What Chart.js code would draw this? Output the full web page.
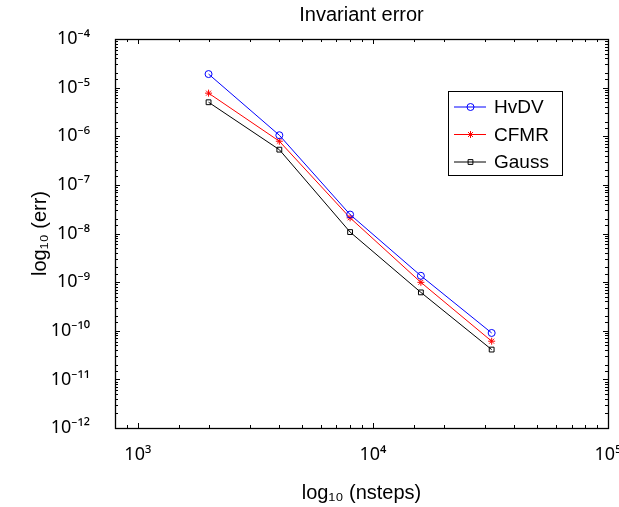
<!DOCTYPE html>
<html>
<head>
<meta charset="utf-8">
<title>Invariant error</title>
<script src="https://cdn.jsdelivr.net/npm/chart.js@4.4.1/dist/chart.umd.min.js"></script>
<style>
  html, body { margin: 0; padding: 0; background: #fff; }
  #wrap { width: 619px; height: 507px; position: relative; }
</style>
</head>
<body>
<div id="wrap"><canvas id="errChart"></canvas></div>
<script>
// Invariant error - log/log convergence plot
const nsteps = [2000, 4000, 8000, 16000, 32000];
const errHvDV = [1.9e-5, 1.05e-6, 2.45e-8, 1.35e-9, 9.0e-11];
const errCFMR = [7.7e-6, 7.9e-7, 2.1e-8, 9.9e-10, 6.1e-11];
const errGauss = [5.0e-6, 5.3e-7, 1.07e-8, 6.15e-10, 4.1e-11];
const seriesNames = ['HvDV', 'CFMR', 'Gauss'];
const xRange = [800, 1e5];
const yRange = [1e-12, 1e-4];

const FONT = "'Liberation Sans', Arial, Helvetica, sans-serif";
const TICK_FONT = "'Noto Sans', 'DejaVu Sans', sans-serif";
const SUP = { '-': '\u207B', '0': '\u2070', '1': '\u00B9', '2': '\u00B2', '3': '\u00B3',
  '4': '\u2074', '5': '\u2075', '6': '\u2076', '7': '\u2077', '8': '\u2078', '9': '\u2079' };

function isDecade(v) { const e = Math.log10(v); return Math.abs(e - Math.round(e)) < 1e-6; }
function decadeLabel(v) {
  if (!isDecade(v)) return '';
  return '10' + String(Math.round(Math.log10(v))).split('').map(c => SUP[c]).join('');
}
function toPoints(ys) { return nsteps.map((x, i) => ({ x, y: ys[i] })); }

// MATLAB-like box with inward ticks on all four sides
const boxTicks = {
  id: 'boxTicks',
  afterDraw(chart) {
    const { ctx, chartArea: a, scales: { x, y } } = chart;
    ctx.save();
    ctx.strokeStyle = '#000';
    ctx.lineWidth = 1;
    ctx.beginPath();
    x.ticks.forEach(t => {
      const px = Math.round(x.getPixelForValue(t.value)) + 0.5;
      const len = isDecade(t.value) ? 5 : 3;
      ctx.moveTo(px, a.bottom); ctx.lineTo(px, a.bottom - len);
      ctx.moveTo(px, a.top); ctx.lineTo(px, a.top + len);
    });
    y.ticks.forEach(t => {
      const py = Math.round(y.getPixelForValue(t.value)) + 0.5;
      const len = isDecade(t.value) ? 5 : 3;
      ctx.moveTo(a.left, py); ctx.lineTo(a.left + len, py);
      ctx.moveTo(a.right, py); ctx.lineTo(a.right - len, py);
    });
    ctx.stroke();
    ctx.lineWidth = 1.3;
    ctx.strokeRect(Math.round(a.left) + 0.5, Math.round(a.top) + 0.5, Math.round(a.right - a.left), Math.round(a.bottom - a.top));
    ctx.restore();
  }
};

// legend box inside the plot, top right
const boxLegend = {
  id: 'boxLegend',
  afterDraw(chart) {
    const { ctx, chartArea: a } = chart;
    const w = 114, h = 84, row = 27.5;
    const lx = a.right - 46 - w, ly = a.top + 52;
    ctx.save();
    ctx.fillStyle = '#fff';
    ctx.fillRect(lx, ly, w, h);
    ctx.strokeStyle = '#000';
    ctx.lineWidth = 1;
    ctx.strokeRect(Math.round(lx) + 0.5, Math.round(ly) + 0.5, w, h);
    ctx.font = '19px ' + FONT;
    ctx.textBaseline = 'middle';
    chart.data.datasets.forEach((ds, i) => {
      const cy = ly + 16 + i * row;
      ctx.strokeStyle = ds.borderColor;
      ctx.lineWidth = 1;
      ctx.beginPath(); ctx.moveTo(lx + 6, cy); ctx.lineTo(lx + 38, cy); ctx.stroke();
      ctx.fillStyle = ds.pointBackgroundColor;
      Chart.helpers.drawPoint(ctx, { pointStyle: ds.pointStyle, radius: ds.pointRadius, rotation: 0, borderWidth: 1 }, lx + 22.5, cy);
      ctx.fillStyle = '#000';
      ctx.fillText(ds.label, lx + 46, cy + 1);
    });
    ctx.restore();
  }
};

Chart.defaults.font.family = FONT;
Chart.defaults.color = '#000';

new Chart(document.getElementById('errChart'), {
  type: 'line',
  data: {
    datasets: [
      { label: seriesNames[0], data: toPoints(errHvDV), borderColor: '#0000ff', pointStyle: 'circle',
        pointRadius: 3.5, pointBackgroundColor: 'rgba(0,0,0,0)', pointBorderColor: '#0000ff' },
      { label: seriesNames[1], data: toPoints(errCFMR), borderColor: '#ff0000', pointStyle: 'star',
        pointRadius: 3.5, pointBackgroundColor: '#ff0000', pointBorderColor: '#ff0000' },
      { label: seriesNames[2], data: toPoints(errGauss), borderColor: '#000000', pointStyle: 'rect',
        pointRadius: 3.4, pointBackgroundColor: 'rgba(0,0,0,0)', pointBorderColor: '#000000' }
    ].map(d => Object.assign({ borderWidth: 1, pointBorderWidth: 1, tension: 0, fill: false }, d))
  },
  options: {
    responsive: true, maintainAspectRatio: false, animation: false,
    layout: { padding: { left: 0, right: 11, top: 0, bottom: 0 } },
    plugins: {
      legend: { display: false },
      tooltip: { enabled: false },
      title: { display: true, text: 'Invariant error', fullSize: false, color: '#000',
        font: { size: 20, weight: 'normal' }, padding: { top: 3, bottom: 12 } }
    },
    scales: {
      x: {
        type: 'logarithmic', min: xRange[0], max: xRange[1],
        grid: { display: false }, border: { display: false },
        ticks: { autoSkip: false, maxRotation: 0, padding: 8, font: { size: 18, family: TICK_FONT }, callback: v => decadeLabel(v) },
        title: { display: true, text: 'log\u2081\u2080 (nsteps)', font: { size: 20 }, padding: { top: 0, bottom: 2 } },
        afterFit: s => { s.height = 79; s.paddingLeft = 0; s.paddingRight = 0; }
      },
      y: {
        type: 'logarithmic', min: yRange[0], max: yRange[1],
        grid: { display: false }, border: { display: false },
        ticks: { autoSkip: false, padding: 17, font: { size: 18, family: TICK_FONT }, callback: v => decadeLabel(v) },
        title: { display: true, text: 'log\u2081\u2080 (err)', font: { size: 20 }, padding: { top: 28, bottom: 0 } },
        afterFit: s => { s.width = 115; s.paddingTop = 0; s.paddingBottom = 0; }
      }
    }
  },
  plugins: [boxTicks, boxLegend]
});
</script>
</body>
</html>
